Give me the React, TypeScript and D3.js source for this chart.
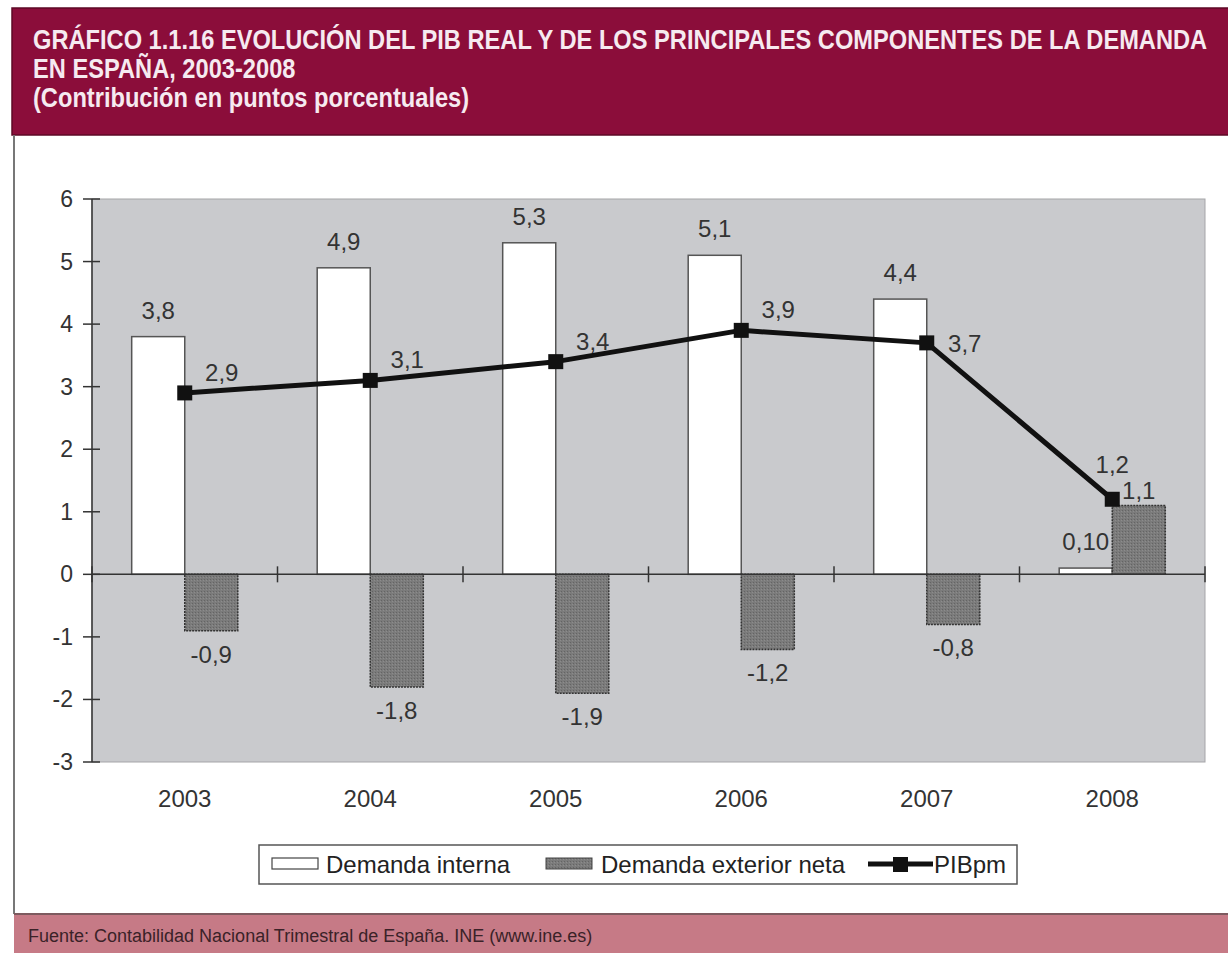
import * as d3 from 'd3';

const years = ['2003', '2004', '2005', '2006', '2007', '2008'];
const demandaInterna = [3.8, 4.9, 5.3, 5.1, 4.4, 0.1];
const demandaInternaLabels = ['3,8', '4,9', '5,3', '5,1', '4,4', '0,10'];
const demandaExterior = [-0.9, -1.8, -1.9, -1.2, -0.8, 1.1];
const demandaExteriorLabels = ['-0,9', '-1,8', '-1,9', '-1,2', '-0,8', '1,1'];
const pib = [2.9, 3.1, 3.4, 3.9, 3.7, 1.2];
const pibLabels = ['2,9', '3,1', '3,4', '3,9', '3,7', '1,2'];
// where each PIB label sits relative to its marker
const pibLabelSide = ['upright', 'upright', 'upright', 'upright', 'right', 'up'];
const yTicks = [-3, -2, -1, 0, 1, 2, 3, 4, 5, 6];

const W = 1228;
const H = 953;
const plot = { left: 92, right: 1205, top: 199, bottom: 762 };
const font = '"Liberation Sans", Arial, sans-serif';

export default function App() {
  const x = d3.scaleBand<string>().domain(years).range([plot.left, plot.right]);
  const y = d3.scaleLinear().domain([-3, 6]).range([plot.bottom, plot.top]);
  const bw = x.bandwidth();
  const barW = bw * 0.286;
  const cx = (yr: string) => (x(yr) as number) + bw / 2;

  const line = d3
    .line<number>()
    .x((_, i) => cx(years[i]))
    .y((d) => y(d));

  const pibLabelPos = (side: string, px: number, py: number) => {
    if (side === 'right') return [px + 38, py + 9];
    if (side === 'up') return [px, py - 26];
    return [px + 37, py - 12];
  };

  // category boundaries on the zero line
  const catTicks = years.map((yr) => x(yr) as number).concat([plot.right]);

  return (
    <svg
      width={W}
      height={H}
      style={{ position: 'absolute', left: 0, top: 0, background: '#fff' }}
      fontFamily={font}
    >
      <defs>
        <pattern id="dots" width="3" height="3" patternUnits="userSpaceOnUse">
          <rect width="3" height="3" fill="#7b7b7b" />
          <rect x="0" y="0" width="1" height="1" fill="#646464" />
          <rect x="2" y="1" width="1" height="1" fill="#8c8c8c" />
        </pattern>
      </defs>

      {/* header */}
      <rect x={12} y={8} width={W} height={127} fill="#8b0d3a" stroke="#5e0826" strokeWidth={1.5} />
      <g fill="#f6eaf0" fontWeight="bold" fontSize={27}>
        <text transform="translate(33,49) scale(0.876,1)">
          GRÁFICO 1.1.16 EVOLUCIÓN DEL PIB REAL Y DE LOS PRINCIPALES COMPONENTES DE LA DEMANDA
        </text>
        <text transform="translate(33,78) scale(0.876,1)">EN ESPAÑA, 2003-2008</text>
        <text transform="translate(33,107) scale(0.876,1)">(Contribución en puntos porcentuales)</text>
      </g>

      {/* left frame */}
      <line x1={14} x2={14} y1={135} y2={914} stroke="#777" strokeWidth={2} />

      {/* plot area */}
      <rect
        x={plot.left}
        y={plot.top}
        width={plot.right - plot.left}
        height={plot.bottom - plot.top}
        fill="#c9cacd"
        stroke="#a5a5a8"
        strokeWidth={1}
      />

      {/* demanda interna bars */}
      {years.map((yr, i) => {
        const v = demandaInterna[i];
        return (
          <rect
            key={'di' + yr}
            x={cx(yr) - barW}
            y={y(Math.max(0, v))}
            width={barW}
            height={Math.abs(y(v) - y(0))}
            fill="#fff"
            stroke="#555"
            strokeWidth={1.5}
          />
        );
      })}

      {/* demanda exterior neta bars */}
      {years.map((yr, i) => {
        const v = demandaExterior[i];
        return (
          <rect
            key={'de' + yr}
            x={cx(yr)}
            y={y(Math.max(0, v))}
            width={barW}
            height={Math.abs(y(v) - y(0))}
            fill="url(#dots)"
            stroke="#333"
            strokeWidth={1.5}
            strokeDasharray="2 1"
          />
        );
      })}

      {/* y axis */}
      <line x1={plot.left} x2={plot.left} y1={plot.top} y2={plot.bottom} stroke="#333" strokeWidth={1.5} />
      {yTicks.map((t) => (
        <g key={'yt' + t}>
          <line x1={plot.left - 9} x2={plot.left + 8} y1={y(t)} y2={y(t)} stroke="#333" strokeWidth={1.5} />
          <text x={73} y={y(t) + 8} textAnchor="end" fontSize={23} fill="#333">
            {t}
          </text>
        </g>
      ))}

      {/* zero line with category ticks */}
      <line x1={plot.left} x2={plot.right} y1={y(0)} y2={y(0)} stroke="#333" strokeWidth={1.5} />
      {catTicks.map((tx, i) => (
        <line key={'ct' + i} x1={tx} x2={tx} y1={y(0) - 8} y2={y(0) + 8} stroke="#333" strokeWidth={1.5} />
      ))}

      {/* PIB line */}
      <path d={line(pib) ?? ''} fill="none" stroke="#111" strokeWidth={5} strokeLinejoin="round" />
      {pib.map((v, i) => (
        <rect key={'pm' + i} x={cx(years[i]) - 7.5} y={y(v) - 7.5} width={15} height={15} fill="#111" />
      ))}

      {/* data labels */}
      <g fontSize={24} fill="#333" textAnchor="middle">
        {years.map((yr, i) => (
          <text key={'dil' + yr} x={cx(yr) - barW / 2} y={y(demandaInterna[i]) - 18}>
            {demandaInternaLabels[i]}
          </text>
        ))}
        {years.map((yr, i) => {
          const v = demandaExterior[i];
          return (
            <text key={'del' + yr} x={cx(yr) + barW / 2} y={v < 0 ? y(v) + 32 : y(v) - 7}>
              {demandaExteriorLabels[i]}
            </text>
          );
        })}
        {years.map((yr, i) => {
          const [lx, ly] = pibLabelPos(pibLabelSide[i], cx(yr), y(pib[i]));
          return (
            <text key={'pl' + yr} x={lx} y={ly}>
              {pibLabels[i]}
            </text>
          );
        })}
      </g>

      {/* category labels */}
      {years.map((yr) => (
        <text key={'yl' + yr} x={cx(yr)} y={807} textAnchor="middle" fontSize={24} fill="#333">
          {yr}
        </text>
      ))}

      {/* legend */}
      <g fontSize={24} fill="#222">
        <rect x={259} y={845} width={758} height={39} fill="#fff" stroke="#555" strokeWidth={1.5} />
        <rect x={272} y={858} width={46} height={11} fill="#fff" stroke="#444" strokeWidth={1.2} />
        <text x={326} y={873}>Demanda interna</text>
        <rect x={546} y={858} width={46} height={11} fill="url(#dots)" stroke="#444" strokeWidth={1} />
        <text x={601} y={873}>Demanda exterior neta</text>
        <line x1={868} x2={933} y1={864} y2={864} stroke="#111" strokeWidth={5} />
        <rect x={893} y={857} width={15} height={15} fill="#111" />
        <text x={934} y={873}>PIBpm</text>
      </g>

      {/* footer */}
      <rect x={14} y={914} width={W} height={40} fill="#c67a86" />
      <line x1={14} x2={W} y1={914} y2={914} stroke="#7d5a5f" strokeWidth={2} />
      <text x={28} y={942} fontSize={18} fill="#3a2228">
        Fuente: Contabilidad Nacional Trimestral de España. INE (www.ine.es)
      </text>
    </svg>
  );
}
